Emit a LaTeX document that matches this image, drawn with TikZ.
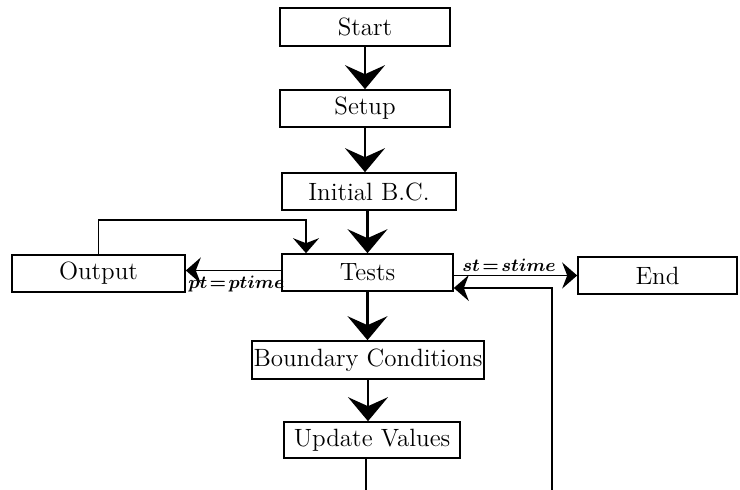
\documentclass[tikz,border=0pt]{standalone}
\usetikzlibrary{arrows.meta}
\begin{document}
\begin{tikzpicture}[x=0.5pt,y=-0.5pt,
  box/.style={draw,line width=0.8pt,rectangle,inner sep=0pt,
    font=\fontsize{12.5}{14}\selectfont},
  bigarr/.style={line width=1.1pt,-{Stealth[length=12pt,width=20pt,inset=4.5pt]}},
  smallarr/.style={line width=0.8pt,-{Stealth[length=7.5pt,width=13pt,inset=2.5pt]}},
  plain/.style={line width=0.8pt},
  lbl/.style={font=\fontsize{9.5}{11}\selectfont\boldmath,inner sep=0pt}]
\useasboundingbox (0,0) rectangle (740,490);
\node[box,minimum width=85pt,minimum height=19pt] (start) at (365,27) {Start};
\node[box,minimum width=85pt,minimum height=18.5pt] (setup) at (365,108.5) {Setup};
\node[box,minimum width=87pt,minimum height=18.5pt] (init) at (369,191.5) {Initial B.C.};
\node[box,minimum width=85.5pt,minimum height=18.5pt] (tests) at (367.5,272.5) {Tests};
\node[box,minimum width=86.5pt,minimum height=18.5pt] (output) at (98.5,273.5) {Output};
\node[box,minimum width=79.5pt,minimum height=18.5pt] (end) at (657.5,275.5) {End};
\node[box,minimum width=116pt,minimum height=19pt] (bc) at (368,360) {Boundary Conditions};
\node[box,minimum width=88pt,minimum height=18pt] (uv) at (372,440) {Update Values};

\coordinate (fb) at (306,220);
\coordinate (uvb) at (366,490);
\coordinate (rb) at (552,490);
\coordinate (rt) at (552,288);

\draw[bigarr] (start.south) -- (setup.north);
\draw[bigarr] (setup.south) -- (setup.south |- init.north);
\draw[bigarr] (tests.north |- init.south) -- (tests.north);
\draw[bigarr] (tests.south) -- (tests.south |- bc.north);
\draw[bigarr] (bc.south) -- (bc.south |- uv.north);
\draw[plain] (uvb |- uv.south) -- (uvb);

\draw[smallarr] (output.north) |- (fb) -- (fb |- tests.north);
\draw[smallarr] ([yshift=1pt]tests.west) -- ([yshift=1pt]tests.west -| output.east);
\node[lbl,anchor=north west] (pt) at (188,276) {$\thickmuskip=2mu\relax pt = ptime$};
\draw[smallarr] ([yshift=-1.5pt]tests.east) -- ([yshift=-1.5pt]tests.east -| end.west);
\node[lbl,anchor=south west] (st) at (462,272) {$\thickmuskip=2mu\relax st = stime$};
\draw[smallarr] (rb) -- (rt) -- (rt -| tests.east);
\end{tikzpicture}
\end{document}
